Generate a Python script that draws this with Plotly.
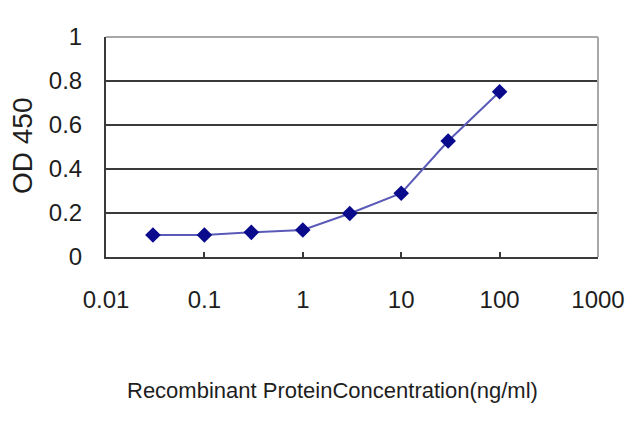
import plotly.graph_objects as go

conc = [0.03, 0.1, 0.3, 1, 3, 10, 30, 100]
od450 = [0.10, 0.10, 0.112, 0.123, 0.198, 0.29, 0.527, 0.751]
x_ticks = [0.01, 0.1, 1, 10, 100, 1000]
x_tick_labels = ["0.01", "0.1", "1", "10", "100", "1000"]
y_ticks = [0, 0.2, 0.4, 0.6, 0.8, 1]
y_tick_labels = ["0", "0.2", "0.4", "0.6", "0.8", "1"]
x_title = "Recombinant ProteinConcentration(ng/ml)"
y_title = "OD 450"

REG = "Liberation Sans, Arial, sans-serif"
AX = "#3a3a3a"

fig = go.Figure()
fig.add_trace(go.Scatter(
    x=conc, y=od450, mode="lines+markers",
    line=dict(color="#5a5ab8", width=2),
    marker=dict(symbol="diamond", size=12, color="#0a0a8c", line=dict(width=0)),
    showlegend=False,
))

fig.update_layout(
    width=640, height=427,
    margin=dict(l=106, r=42, t=37, b=170),
    paper_bgcolor="white", plot_bgcolor="white",
    font=dict(family=REG, size=24, color="#1e1e1e"),
    xaxis=dict(
        type="log", range=[-2, 3],
        tickvals=x_ticks, ticktext=x_tick_labels,
        ticks="inside", ticklen=5, tickcolor=AX, tickwidth=2,
        showline=True, linecolor=AX, linewidth=2,
        showgrid=False, zeroline=False,
        ticklabelstandoff=20,
    ),
    yaxis=dict(
        range=[0, 1],
        tickvals=y_ticks, ticktext=y_tick_labels,
        ticks="inside", ticklen=5, tickcolor=AX, tickwidth=2,
        showline=True, linecolor=AX, linewidth=2,
        showgrid=True, gridcolor=AX, gridwidth=2,
        zeroline=False,
        ticklabelstandoff=17,
    ),
    shapes=[
        dict(type="line", xref="x domain", yref="y domain", x0=0, x1=1, y0=1, y1=1,
             line=dict(color="#a8a8a8", width=2)),
        dict(type="line", xref="x domain", yref="y domain", x0=1, x1=1, y0=0, y1=1,
             line=dict(color="#a8a8a8", width=2)),
    ],
    annotations=[
        dict(text=x_title, xref="paper", yref="paper", x=(332 - 106) / 492, y=-(390 - 257) / 220,
             xanchor="center", yanchor="middle", showarrow=False,
             font=dict(family=REG, size=22, color="#1e1e1e")),
        dict(text=y_title, xref="paper", yref="paper", x=-(106 - 22) / 492, y=(257 - 146) / 220,
             xanchor="center", yanchor="middle", showarrow=False, textangle=-90,
             font=dict(family=REG, size=28, color="#1e1e1e")),
    ],
)

fig.write_html("out.html", config={"displayModeBar": False},
               post_script="document.body.style.margin='0';")
